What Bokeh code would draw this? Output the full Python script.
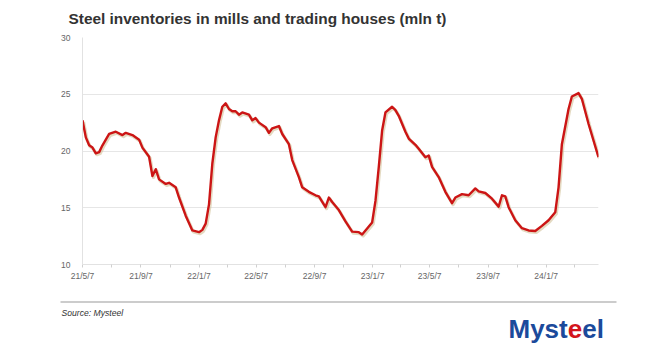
import pandas as pd
from bokeh.plotting import figure
from bokeh.models import Range1d, FixedTicker, ColumnDataSource
from bokeh.layouts import column, row
from bokeh.transform import dodge
from bokeh.core.properties import value
from bokeh.embed import file_html
from bokeh.resources import INLINE

# ---------------- data ----------------
TITLE = "Steel inventories in mills and trading houses (mln t)"
SOURCE = "Source: Mysteel"
START = "2021-05-07"

# weeks since 2021-05-07 (weekly Friday data)
week = [0, 1, 2, 3, 4, 5, 6, 8, 10, 12, 13, 15, 17, 18, 20, 21, 22, 23, 25, 26,
        28, 29, 31, 33, 35, 36, 37, 38, 39, 40, 41, 42, 43, 44, 45, 46, 47, 48, 50, 51,
        52, 53, 55, 56, 57, 59, 60, 62, 63, 65, 66, 68, 70, 71, 73, 74, 75, 77, 79, 81,
        83, 84, 85, 87, 88, 89, 90, 91, 93, 94, 95, 97, 98, 100, 101, 103, 104, 105, 107, 109,
        111, 112, 114, 116, 118, 119, 121, 123, 125, 126, 127, 128, 130, 132, 134, 136, 138, 140, 142, 143,
        144, 146, 147, 149, 150, 152, 155]
# inventories, mln t
inventory = [22.7, 21.2, 20.5, 20.3, 19.8, 19.9, 20.5, 21.5, 21.7, 21.4, 21.6, 21.4, 21.0, 20.3, 19.5, 17.8, 18.4, 17.5, 17.1, 17.2,
             16.8, 15.9, 14.3, 13.0, 12.85, 13.05, 13.6, 15.3, 18.9, 21.2, 22.7, 23.9, 24.2, 23.7, 23.5, 23.5, 23.2, 23.4, 23.2, 22.7,
             22.9, 22.5, 22.1, 21.6, 22.0, 22.2, 21.5, 20.6, 19.2, 17.7, 16.8, 16.4, 16.1, 16.0, 15.05, 15.9, 15.5, 14.8, 13.8, 12.9,
             12.85, 12.65, 13.0, 13.7, 15.6, 18.6, 21.8, 23.4, 23.9, 23.6, 23.1, 21.7, 21.1, 20.55, 20.2, 19.45, 19.6, 18.6, 17.7, 16.4,
             15.4, 15.9, 16.2, 16.1, 16.7, 16.45, 16.3, 15.8, 15.1, 16.1, 16.0, 15.05, 13.9, 13.2, 13.0, 12.95, 13.4, 13.9, 14.6, 16.8,
             20.6, 23.7, 24.8, 25.1, 24.6, 22.4, 19.45]

tick_dates = ["2021-05-07", "2021-09-07", "2022-01-07", "2022-05-07", "2022-09-07",
              "2023-01-07", "2023-05-07", "2023-09-07", "2024-01-07"]
tick_labels = ["21/5/7", "21/9/7", "22/1/7", "22/5/7", "22/9/7",
               "23/1/7", "23/5/7", "23/9/7", "24/1/7"]
minor_dates = ["2021-07-07", "2021-11-07", "2022-03-07", "2022-07-07", "2022-11-07",
               "2023-03-07", "2023-07-07", "2023-11-07", "2024-03-07"]
y_ticks = [10, 15, 20, 25, 30]

# ---------------- derived ----------------
start = pd.Timestamp(START)
days = [w * 7 for w in week]
tick_days = [(pd.Timestamp(d) - start).days for d in tick_dates]
minor_days = [(pd.Timestamp(d) - start).days for d in minor_dates]
src = ColumnDataSource(dict(x=days, y=inventory))

FONT = "Liberation Sans"
HEAD_H = 32


def blank(h, y0, y1):
    f = figure(width=652, height=h, x_range=Range1d(0, 652), y_range=Range1d(y1, y0),
               output_backend="svg", toolbar_location=None, title=None,
               x_axis_location=None, y_axis_location=None,
               min_border=0, min_border_left=0, min_border_right=0,
               min_border_top=0, min_border_bottom=0)
    f.grid.visible = False
    f.outline_line_color = None
    f.background_fill_color = "white"
    f.border_fill_color = "white"
    return f


# ---------------- header ----------------
head = blank(HEAD_H, 0, HEAD_H)
head.text(x=[68], y=[17.5], text=[TITLE], text_font=value(FONT), text_font_style="bold",
          text_font_size="15.4px", text_color="#333333", text_baseline="alphabetic")

# ---------------- main chart ----------------
p = figure(width=652, height=300 - HEAD_H, x_range=Range1d(0, days[-1]),
           y_range=Range1d(min(y_ticks), max(y_ticks)),
           output_backend="svg", toolbar_location=None,
           min_border_left=82, min_border_right=54, min_border_top=37 - HEAD_H, min_border_bottom=36)
p.outline_line_color = None
p.background_fill_color = "white"
p.border_fill_color = "white"
p.xgrid.visible = False
p.ygrid.grid_line_color = "#e6e6e6"
p.ygrid.grid_line_width = 1

p.yaxis.ticker = FixedTicker(ticks=y_ticks)
p.yaxis.axis_line_color = "#e2e2e2"
p.yaxis.major_tick_line_color = None
p.yaxis.minor_tick_line_color = None
p.yaxis.major_label_standoff = 6
p.yaxis.major_label_text_font = FONT
p.yaxis.major_label_text_font_size = "8.5px"
p.yaxis.major_label_text_color = "#666666"

p.xaxis.ticker = FixedTicker(ticks=tick_days, minor_ticks=minor_days)
p.xaxis.major_label_overrides = {d: l for d, l in zip(tick_days, tick_labels)}
p.xaxis.axis_line_color = "#e2e2e2"
p.xaxis.major_tick_line_color = "#d0d0d0"
p.xaxis.minor_tick_line_color = "#d0d0d0"
p.xaxis.major_tick_in = 0
p.xaxis.major_tick_out = 3
p.xaxis.minor_tick_in = 0
p.xaxis.minor_tick_out = 3
p.xaxis.major_label_standoff = 3
p.xaxis.major_label_text_font = FONT
p.xaxis.major_label_text_font_size = "8.5px"
p.xaxis.major_label_text_color = "#666666"

# soft shadow under the line
p.line(x=dodge("x", 2.2, range=p.x_range), y=dodge("y", -0.13, range=p.y_range), source=src,
       line_color="#cdbb90", line_alpha=0.55, line_width=3.2, line_join="round")
p.line(x="x", y="y", source=src, line_color="#cc1515", line_width=2.4, line_join="round")

# ---------------- footer ----------------
foot = blank(57, 300, 357)
foot.line(x=[60, 616], y=[301.5, 301.5], line_color="#9a9a9a", line_width=1.2)
foot.text(x=[61], y=[312.5], text=[SOURCE], text_font=value(FONT), text_font_style="italic",
          text_font_size="8.6px", text_color="#333333", text_baseline="alphabetic")
logo_parts = ["Myst", "e", "el"]
logo_colors = ["#1b4a9b", "#d3141c", "#1b4a9b"]
logo_x = [508, 567.3, 581.8]
foot.text(x=logo_x, y=[328, 328, 328], text=logo_parts, text_color=logo_colors,
          text_font=value(FONT), text_font_style="bold", text_font_size="26px",
          text_baseline="alphabetic")

layout = column(row(head), p, row(foot), spacing=0)
open("out.html", "w").write(file_html(layout, INLINE))
